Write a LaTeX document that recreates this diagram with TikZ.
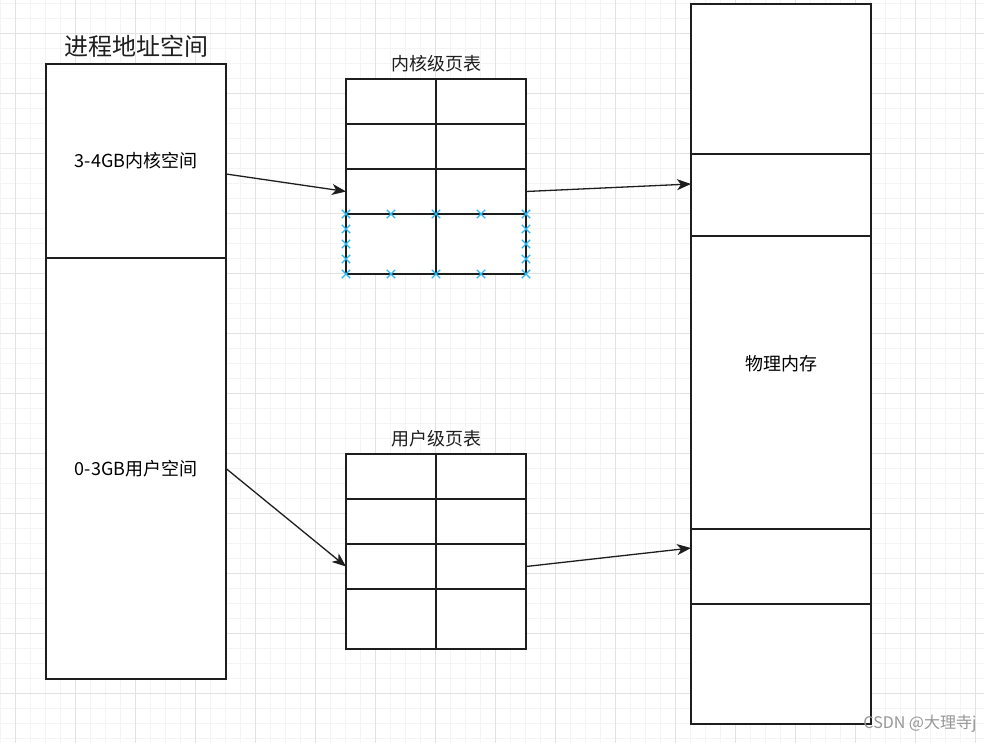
\documentclass[tikz,border=0pt]{standalone}
\usepackage{fontspec}
\newfontfamily\cjk{Noto Sans CJK SC}
\usetikzlibrary{arrows.meta,calc,shapes.misc}
\definecolor{ink}{RGB}{30,30,30}
\definecolor{gridmajor}{RGB}{226,226,226}
\definecolor{gridminor}{RGB}{244,244,244}
\definecolor{handleblue}{RGB}{41,182,242}
\definecolor{markgray}{RGB}{150,150,150}
\tikzset{
  block/.style={draw=ink, line width=1.3pt, fill=white, anchor=north west, inner sep=0pt, outer sep=0pt, minimum width=180pt, font=\cjk\fontsize{18}{21}\selectfont},
  cell/.style={draw=ink, line width=1.3pt, fill=white, anchor=north west, inner sep=0pt, outer sep=0pt, minimum width=90pt},
  link/.style={-{Stealth[length=14pt,width=11pt,inset=4pt]}, line width=1.3pt, draw=ink},
  txt/.style={font=\cjk\fontsize{18}{21}\selectfont, text=ink},
  handle/.style={cross out, draw=handleblue, line width=1.4pt, minimum size=7pt, inner sep=0pt},
  minorline/.style={draw=gridminor, line width=0.9pt},
  majorline/.style={draw=gridmajor, line width=0.9pt}
}
\begin{document}
\begin{tikzpicture}[x=1pt,y=-1pt]
  \useasboundingbox[fill=white] (0,0) rectangle (984,743);
  % background grid
  \foreach \x in {0,15,...,975} \draw[minorline] (\x,0) -- (\x,743);
  \foreach \y in {3,18,...,738} \draw[minorline] (0,\y) -- (984,\y);
  \foreach \x in {15,75,...,975} \draw[majorline] (\x,0) -- (\x,743);
  \foreach \y in {33,93,...,693} \draw[majorline] (0,\y) -- (984,\y);
  % process address space
  \node[txt, font=\cjk\fontsize{24}{28}\selectfont] (ptitle) at (136,46) {进程地址空间};
  \node[block, minimum height=194pt] (kspace) at (46,64) {3-4GB内核空间};
  \node[block, minimum height=421pt] (uspace) at (46,258) {0-3GB用户空间};
  % page tables
  \node[txt] (ktlabel) at (436,64) {内核级页表};
  \node[txt] (utlabel) at (436,439) {用户级页表};
  \foreach \r/\y/\h in {1/79/45,2/124/45,3/169/45,4/214/60}{
    \node[cell, minimum height=\h pt] (kt-\r-1) at (346,\y) {};
    \node[cell, minimum height=\h pt] (kt-\r-2) at (436,\y) {};
  }
  \foreach \r/\y/\h in {1/454/45,2/499/45,3/544/45,4/589/60}{
    \node[cell, minimum height=\h pt] (ut-\r-1) at (346,\y) {};
    \node[cell, minimum height=\h pt] (ut-\r-2) at (436,\y) {};
  }
  % selection handles
  \foreach \x in {346,391,436,481,526}{
    \node[handle] (h-top-\x) at (\x,214) {};
    \node[handle] (h-bot-\x) at (\x,274) {};
  }
  \foreach \y in {229,244,259}{
    \node[handle] (h-left-\y) at (346,\y) {};
    \node[handle] (h-right-\y) at (526,\y) {};
  }
  % physical memory
  \node[block, minimum height=720pt] (phys) at (691,4) {物理内存};
  \node[block, fill=none, minimum height=82pt] (pk) at (691,154) {};
  \node[block, fill=none, minimum height=75pt] (pu) at (691,529) {};
  % mappings
  \draw[link] ($(kspace.east)+(0,13)$) -- (kt-3-1.west);
  \draw[link] (kt-3-2.east) -- ($(pk.west)+(0,-11)$);
  \draw[link] (uspace.east) -- (ut-3-1.west);
  \draw[link] (ut-3-2.east) -- ($(pu.west)+(0,-18.5)$);
  \node[anchor=east, text=markgray, font=\cjk\fontsize{16}{18}\selectfont] (wm) at (980,724) {CSDN @大理寺j};
\end{tikzpicture}
\end{document}
